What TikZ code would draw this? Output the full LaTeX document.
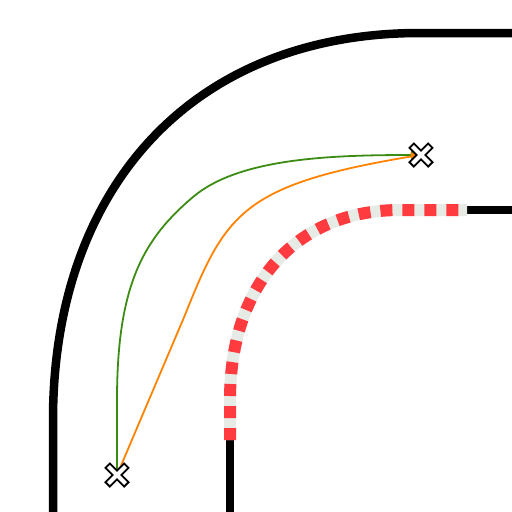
\documentclass[tikz,border=0pt]{standalone}
\usetikzlibrary{arrows.meta}
\definecolor{curbred}{HTML}{FF3B3F}
\definecolor{curbgrey}{HTML}{E6EBE6}
\definecolor{lineGreen}{HTML}{3C8C14}
\definecolor{lineOrange}{HTML}{FF8200}
\tikzset{
  wall/.style={line width=8.5pt, black},
  innerwall/.style={line width=8pt, black},
  curbbase/.style={line width=12pt, curbgrey},
  curbdash/.style={line width=12pt, curbred, dash pattern=on 12pt off 10pt},
  pathline/.style={line width=1.8pt, -{Triangle[length=9pt,width=8pt]}},
  crossout/.style={line width=8pt, black},
  crossin/.style={line width=4pt, white},
}
\begin{document}
\begin{tikzpicture}[x=1pt,y=-1pt]
\useasboundingbox (0,0) rectangle (512,512);
% outer boundary
\draw[wall] (53,520) -- (53,420) .. controls (53,190) and (190,33) .. (420,33) -- (520,33);
% inner boundary
\draw[innerwall] (230,520) -- (230,438);
\draw[innerwall] (465,210) -- (520,210);
% curb
\draw[curbbase] (230,440) -- (230,400) .. controls (230,280) and (300,210) .. (400,210) -- (467,210);
\draw[curbdash] (230,440) -- (230,400) .. controls (230,280) and (300,210) .. (400,210) -- (467,210);
% markers
\coordinate (start) at (117,475);
\coordinate (goal) at (421,155);
% green path
\draw[pathline, lineGreen] (start) -- (117,400) .. controls (117,285) and (143.4,239) .. (193,197) .. controls (238.8,158.2) and (330,155) .. ([xshift=-1pt]goal);
% orange path
\draw[pathline, lineOrange] (start) -- (185,315) .. controls (225.7,212.7) and (243.5,184.5) .. ([xshift=-1pt]goal);
% crosses
\foreach \p in {start,goal}{
  \draw[crossout] ([shift={(-10,-10)}]\p) -- ([shift={(10,10)}]\p);
  \draw[crossout] ([shift={(-10,10)}]\p) -- ([shift={(10,-10)}]\p);
  \draw[crossin] ([shift={(-8.6,-8.6)}]\p) -- ([shift={(8.6,8.6)}]\p);
  \draw[crossin] ([shift={(-8.6,8.6)}]\p) -- ([shift={(8.6,-8.6)}]\p);
}
\end{tikzpicture}
\end{document}
